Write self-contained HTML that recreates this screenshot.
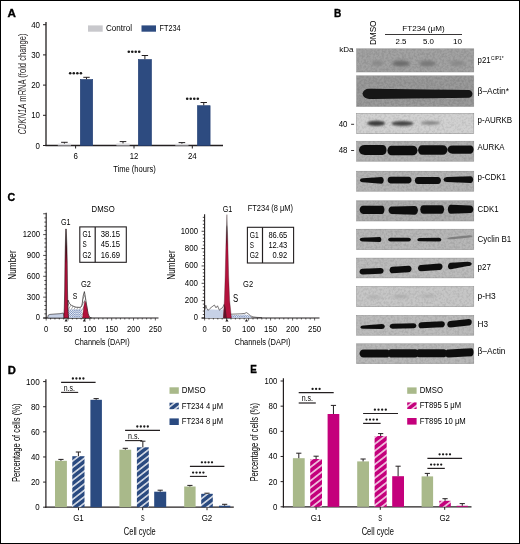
<!DOCTYPE html>
<html><head><meta charset="utf-8"><title>Figure</title>
<style>
html,body{margin:0;padding:0;background:#fff;}
svg{will-change:transform;}
body{width:520px;height:544px;overflow:hidden;}
svg{display:block;font-family:"Liberation Sans", sans-serif;}
</style></head>
<body>
<svg width="520" height="544" viewBox="0 0 520 544">
<rect x="0" y="0" width="520" height="544" fill="#fff"/>
<text x="7.40" y="16.80" font-size="11.6" textLength="8.40" lengthAdjust="spacingAndGlyphs" font-weight="bold" fill="#000" stroke="#000" stroke-width="0.35">A</text>
<line x1="46.00" y1="22.00" x2="46.00" y2="146.10" stroke="#231f20" stroke-width="1.3"/>
<line x1="45.40" y1="145.50" x2="223.00" y2="145.50" stroke="#231f20" stroke-width="1.3"/>
<line x1="43.00" y1="145.50" x2="46.00" y2="145.50" stroke="#231f20" stroke-width="1"/>
<text x="40.00" y="148.50" font-size="8.8" text-anchor="end" textLength="4.40" lengthAdjust="spacingAndGlyphs">0</text>
<line x1="43.00" y1="115.30" x2="46.00" y2="115.30" stroke="#231f20" stroke-width="1"/>
<text x="40.00" y="118.30" font-size="8.8" text-anchor="end" textLength="8.80" lengthAdjust="spacingAndGlyphs">10</text>
<line x1="43.00" y1="85.10" x2="46.00" y2="85.10" stroke="#231f20" stroke-width="1"/>
<text x="40.00" y="88.10" font-size="8.8" text-anchor="end" textLength="8.80" lengthAdjust="spacingAndGlyphs">20</text>
<line x1="43.00" y1="54.90" x2="46.00" y2="54.90" stroke="#231f20" stroke-width="1"/>
<text x="40.00" y="57.90" font-size="8.8" text-anchor="end" textLength="8.80" lengthAdjust="spacingAndGlyphs">30</text>
<line x1="43.00" y1="24.70" x2="46.00" y2="24.70" stroke="#231f20" stroke-width="1"/>
<text x="40.00" y="27.70" font-size="8.8" text-anchor="end" textLength="8.80" lengthAdjust="spacingAndGlyphs">40</text>
<line x1="75.60" y1="145.50" x2="75.60" y2="148.50" stroke="#231f20" stroke-width="1"/>
<text x="75.60" y="159.20" font-size="8.3" text-anchor="middle" textLength="4.40" lengthAdjust="spacingAndGlyphs">6</text>
<line x1="134.00" y1="145.50" x2="134.00" y2="148.50" stroke="#231f20" stroke-width="1"/>
<text x="134.00" y="159.20" font-size="8.3" text-anchor="middle" textLength="8.60" lengthAdjust="spacingAndGlyphs">12</text>
<line x1="192.30" y1="145.50" x2="192.30" y2="148.50" stroke="#231f20" stroke-width="1"/>
<text x="192.30" y="159.20" font-size="8.3" text-anchor="middle" textLength="8.80" lengthAdjust="spacingAndGlyphs">24</text>
<text x="134.50" y="172.40" font-size="9.4" text-anchor="middle" textLength="42.70" lengthAdjust="spacingAndGlyphs">Time (hours)</text>
<g transform="translate(26.0,84) rotate(-90)">
<text x="0" y="0" font-size="10.4" text-anchor="middle" textLength="101" lengthAdjust="spacingAndGlyphs" fill="#231f20"><tspan font-style="italic">CDKN1A</tspan> mRNA (fold change)</text>
</g>
<rect x="57.80" y="143.60" width="13.20" height="1.90" fill="#dcdce0"/>
<line x1="64.40" y1="142.30" x2="64.40" y2="143.60" stroke="#231f20" stroke-width="1"/>
<line x1="61.10" y1="142.30" x2="67.70" y2="142.30" stroke="#231f20" stroke-width="1"/>
<rect x="116.40" y="143.40" width="13.20" height="2.10" fill="#dcdce0"/>
<line x1="123.00" y1="141.60" x2="123.00" y2="143.40" stroke="#231f20" stroke-width="1"/>
<line x1="119.70" y1="141.60" x2="126.30" y2="141.60" stroke="#231f20" stroke-width="1"/>
<rect x="175.30" y="143.70" width="13.20" height="1.80" fill="#dcdce0"/>
<line x1="181.90" y1="142.60" x2="181.90" y2="143.70" stroke="#231f20" stroke-width="1"/>
<line x1="178.60" y1="142.60" x2="185.20" y2="142.60" stroke="#231f20" stroke-width="1"/>
<rect x="80.30" y="79.50" width="12.40" height="66.00" fill="#2d4b80" stroke="#223f74" stroke-width="0.6"/>
<line x1="86.50" y1="77.30" x2="86.50" y2="79.20" stroke="#231f20" stroke-width="1"/>
<line x1="83.30" y1="77.30" x2="89.70" y2="77.30" stroke="#231f20" stroke-width="1"/>
<rect x="138.30" y="59.50" width="13.20" height="86.00" fill="#2d4b80" stroke="#223f74" stroke-width="0.6"/>
<line x1="144.90" y1="55.50" x2="144.90" y2="59.20" stroke="#231f20" stroke-width="1"/>
<line x1="141.70" y1="55.50" x2="148.10" y2="55.50" stroke="#231f20" stroke-width="1"/>
<rect x="197.40" y="105.70" width="12.70" height="39.80" fill="#2d4b80" stroke="#223f74" stroke-width="0.6"/>
<line x1="203.75" y1="102.50" x2="203.75" y2="105.40" stroke="#231f20" stroke-width="1"/>
<line x1="200.55" y1="102.50" x2="206.95" y2="102.50" stroke="#231f20" stroke-width="1"/>
<circle cx="70.20" cy="73.20" r="1.3" fill="#1a1a1a"/>
<circle cx="73.77" cy="73.20" r="1.3" fill="#1a1a1a"/>
<circle cx="77.33" cy="73.20" r="1.3" fill="#1a1a1a"/>
<circle cx="80.90" cy="73.20" r="1.3" fill="#1a1a1a"/>
<circle cx="128.80" cy="51.70" r="1.3" fill="#1a1a1a"/>
<circle cx="132.27" cy="51.70" r="1.3" fill="#1a1a1a"/>
<circle cx="135.73" cy="51.70" r="1.3" fill="#1a1a1a"/>
<circle cx="139.20" cy="51.70" r="1.3" fill="#1a1a1a"/>
<circle cx="187.20" cy="98.70" r="1.3" fill="#1a1a1a"/>
<circle cx="190.73" cy="98.70" r="1.3" fill="#1a1a1a"/>
<circle cx="194.27" cy="98.70" r="1.3" fill="#1a1a1a"/>
<circle cx="197.80" cy="98.70" r="1.3" fill="#1a1a1a"/>
<rect x="88.00" y="25.40" width="14.70" height="6.30" fill="#c8c8cc"/>
<text x="106.00" y="31.20" font-size="8.3" textLength="26.00" lengthAdjust="spacingAndGlyphs">Control</text>
<rect x="141.50" y="25.40" width="14.50" height="6.30" fill="#2d4b80"/>
<text x="159.60" y="31.00" font-size="8.3" textLength="21.00" lengthAdjust="spacingAndGlyphs">FT234</text>
<text x="333.90" y="17.30" font-size="10.9" textLength="7.30" lengthAdjust="spacingAndGlyphs" font-weight="bold" fill="#000" stroke="#000" stroke-width="0.35">B</text>
<g transform="translate(375.7,32.8) rotate(-90)">
<text x="0.00" y="0.00" font-size="8.4" text-anchor="middle" textLength="24.60" lengthAdjust="spacingAndGlyphs">DMSO</text>
</g>
<text x="402.30" y="30.90" font-size="7.8" textLength="42.30" lengthAdjust="spacingAndGlyphs">FT234 (μM)</text>
<line x1="385.00" y1="34.50" x2="462.00" y2="34.50" stroke="#231f20" stroke-width="0.9"/>
<text x="395.50" y="43.50" font-size="7.8" textLength="11.00" lengthAdjust="spacingAndGlyphs">2.5</text>
<text x="423.00" y="43.50" font-size="7.8" textLength="11.00" lengthAdjust="spacingAndGlyphs">5.0</text>
<text x="453.00" y="43.50" font-size="7.8" textLength="9.00" lengthAdjust="spacingAndGlyphs">10</text>
<text x="339.20" y="51.50" font-size="7.8" textLength="14.30" lengthAdjust="spacingAndGlyphs">kDa</text>
<defs><filter id="bl1" x="-20%" y="-50%" width="140%" height="200%"><feGaussianBlur stdDeviation="0.9"/></filter><filter id="bl2" x="-20%" y="-80%" width="140%" height="260%"><feGaussianBlur stdDeviation="1.6"/></filter><filter id="bl3" x="-20%" y="-80%" width="140%" height="260%"><feGaussianBlur stdDeviation="2.4"/></filter></defs>
<rect x="356.60" y="48.80" width="117.20" height="23.20" fill="#9e9e9e" stroke="#8a8a8a" stroke-width="0.5"/>
<rect x="356.60" y="75.80" width="117.20" height="30.70" fill="#959595" stroke="#8a8a8a" stroke-width="0.5"/>
<rect x="356.60" y="113.40" width="117.20" height="20.30" fill="#cfcfcf" stroke="#8a8a8a" stroke-width="0.5"/>
<rect x="356.60" y="141.20" width="117.20" height="20.00" fill="#adadad" stroke="#8a8a8a" stroke-width="0.5"/>
<rect x="356.60" y="171.20" width="117.20" height="20.00" fill="#b0b0b0" stroke="#8a8a8a" stroke-width="0.5"/>
<rect x="356.60" y="200.80" width="117.20" height="20.20" fill="#a9a9a9" stroke="#8a8a8a" stroke-width="0.5"/>
<rect x="356.60" y="229.20" width="117.20" height="20.50" fill="#b4b4b4" stroke="#8a8a8a" stroke-width="0.5"/>
<rect x="356.60" y="258.10" width="117.20" height="19.80" fill="#b8b8b8" stroke="#8a8a8a" stroke-width="0.5"/>
<rect x="356.60" y="286.50" width="117.20" height="20.20" fill="#c4c4c4" stroke="#8a8a8a" stroke-width="0.5"/>
<rect x="356.60" y="315.40" width="117.20" height="19.80" fill="#b8b8b8" stroke="#8a8a8a" stroke-width="0.5"/>
<rect x="356.60" y="343.80" width="117.20" height="19.80" fill="#b4b4b4" stroke="#8a8a8a" stroke-width="0.5"/>
<defs><filter id="nz" x="0" y="0" width="1" height="1" filterUnits="objectBoundingBox" color-interpolation-filters="sRGB"><feTurbulence type="fractalNoise" baseFrequency="0.45" numOctaves="2" seed="11" result="t"/><feColorMatrix in="t" type="matrix" values="0 0 0 0 0  0 0 0 0 0  0 0 0 0 0  0 0 0 -2.2 1.25" result="dk"/><feColorMatrix in="t" type="matrix" values="0 0 0 0 1  0 0 0 0 1  0 0 0 0 1  0 0 0 2.2 -1.0" result="lt"/><feMerge result="m"><feMergeNode in="dk"/><feMergeNode in="lt"/></feMerge><feComposite in="m" in2="SourceGraphic" operator="in"/></filter></defs>
<rect x="356.60" y="48.80" width="117.20" height="23.20" fill="#000" filter="url(#nz)" opacity="0.09"/>
<rect x="356.60" y="75.80" width="117.20" height="30.70" fill="#000" filter="url(#nz)" opacity="0.09"/>
<rect x="356.60" y="113.40" width="117.20" height="20.30" fill="#000" filter="url(#nz)" opacity="0.09"/>
<rect x="356.60" y="141.20" width="117.20" height="20.00" fill="#000" filter="url(#nz)" opacity="0.09"/>
<rect x="356.60" y="171.20" width="117.20" height="20.00" fill="#000" filter="url(#nz)" opacity="0.09"/>
<rect x="356.60" y="200.80" width="117.20" height="20.20" fill="#000" filter="url(#nz)" opacity="0.09"/>
<rect x="356.60" y="229.20" width="117.20" height="20.50" fill="#000" filter="url(#nz)" opacity="0.09"/>
<rect x="356.60" y="258.10" width="117.20" height="19.80" fill="#000" filter="url(#nz)" opacity="0.09"/>
<rect x="356.60" y="286.50" width="117.20" height="20.20" fill="#000" filter="url(#nz)" opacity="0.09"/>
<rect x="356.60" y="315.40" width="117.20" height="19.80" fill="#000" filter="url(#nz)" opacity="0.09"/>
<rect x="356.60" y="343.80" width="117.20" height="19.80" fill="#000" filter="url(#nz)" opacity="0.09"/>
<defs><filter id="bl0" x="-10%" y="-60%" width="120%" height="220%"><feGaussianBlur stdDeviation="0.7"/></filter></defs>
<ellipse cx="377.50" cy="63.20" rx="6.00" ry="2.50" fill="#888" opacity="1" filter="url(#bl2)"/>
<ellipse cx="401.00" cy="63.50" rx="9.00" ry="3.00" fill="#6c6c6c" opacity="1" filter="url(#bl2)"/>
<ellipse cx="427.50" cy="63.50" rx="8.50" ry="3.00" fill="#787878" opacity="1" filter="url(#bl2)"/>
<ellipse cx="457.50" cy="63.20" rx="7.50" ry="2.50" fill="#888" opacity="1" filter="url(#bl2)"/>
<path d="M362.50,93.80 Q363.55,88.70 369.50,88.70 L468.50,89.90 Q471.90,89.90 472.50,93.80 Q471.90,97.70 468.50,97.70 L369.50,98.90 Q363.55,98.90 362.50,93.80 Z" fill="#121212" filter="url(#bl0)"/>
<ellipse cx="376.20" cy="123.30" rx="9.00" ry="2.60" fill="#3c3c3c" opacity="1" filter="url(#bl1)"/>
<ellipse cx="402.50" cy="123.50" rx="11.00" ry="2.40" fill="#464646" opacity="1" filter="url(#bl1)"/>
<ellipse cx="430.50" cy="123.00" rx="10.00" ry="1.90" fill="#8a8a8a" opacity="1" filter="url(#bl1)"/>
<path d="M358.80,150.00 Q359.70,145.10 364.80,145.10 L382.60,145.10 Q386.00,145.10 386.60,150.00 Q386.00,154.90 382.60,154.90 L364.80,154.90 Q359.70,154.90 358.80,150.00 Z" fill="#0f0f0f" filter="url(#bl0)"/>
<path d="M387.40,150.50 Q388.00,145.70 391.40,145.70 L412.60,145.70 Q416.85,145.70 417.60,150.50 Q416.85,155.30 412.60,155.30 L391.40,155.30 Q388.00,155.30 387.40,150.50 Z" fill="#0f0f0f" filter="url(#bl0)"/>
<path d="M418.00,150.00 Q418.60,145.30 422.00,145.30 L442.60,145.30 Q446.85,145.30 447.60,150.00 Q446.85,154.70 442.60,154.70 L422.00,154.70 Q418.60,154.70 418.00,150.00 Z" fill="#0f0f0f" filter="url(#bl0)"/>
<path d="M447.40,149.60 Q448.15,145.50 452.40,145.50 L470.60,145.50 Q473.15,145.50 473.60,149.60 Q473.15,153.70 470.60,153.70 L452.40,153.70 Q448.15,153.70 447.40,149.60 Z" fill="#0f0f0f" filter="url(#bl0)"/>
<path d="M359.80,180.30 Q360.25,178.30 362.80,178.30 L381.30,176.90 Q383.43,176.90 383.80,180.30 Q383.43,183.70 381.30,183.70 L362.80,182.30 Q360.25,182.30 359.80,180.30 Z" fill="#0f0f0f" filter="url(#bl0)"/>
<path d="M387.60,180.10 Q388.05,176.80 390.60,176.80 L408.60,176.80 Q411.15,176.80 411.60,180.10 Q411.15,183.40 408.60,183.40 L390.60,183.40 Q388.05,183.40 387.60,180.10 Z" fill="#0f0f0f" filter="url(#bl0)"/>
<path d="M414.80,180.40 Q415.25,176.90 417.80,176.90 L438.00,176.90 Q440.55,176.90 441.00,180.40 Q440.55,183.90 438.00,183.90 L417.80,183.90 Q415.25,183.90 414.80,180.40 Z" fill="#0f0f0f" filter="url(#bl0)"/>
<path d="M443.40,179.60 Q443.92,177.10 446.90,177.10 L470.70,176.20 Q472.82,176.20 473.20,179.60 Q472.82,183.00 470.70,183.00 L446.90,182.10 Q443.92,182.10 443.40,179.60 Z" fill="#0f0f0f" filter="url(#bl0)"/>
<path d="M359.60,209.80 Q360.12,205.70 363.10,205.70 L382.40,205.70 Q384.10,205.70 384.40,209.80 Q384.10,213.90 382.40,213.90 L363.10,213.90 Q360.12,213.90 359.60,209.80 Z" fill="#0f0f0f" filter="url(#bl0)"/>
<path d="M388.50,210.30 Q389.02,206.60 392.00,206.60 L414.50,205.90 Q417.48,205.90 418.00,210.30 Q417.48,214.70 414.50,214.70 L392.00,214.00 Q389.02,214.00 388.50,210.30 Z" fill="#0f0f0f" filter="url(#bl0)"/>
<path d="M420.20,209.50 Q420.65,205.30 423.20,205.30 L441.20,205.30 Q443.75,205.30 444.20,209.50 Q443.75,213.70 441.20,213.70 L423.20,213.70 Q420.65,213.70 420.20,209.50 Z" fill="#0f0f0f" filter="url(#bl0)"/>
<path d="M447.80,209.20 Q448.25,204.70 450.80,204.70 L470.40,205.40 Q472.95,205.40 473.40,209.20 Q472.95,213.00 470.40,213.00 L450.80,213.70 Q448.25,213.70 447.80,209.20 Z" fill="#0f0f0f" filter="url(#bl0)"/>
<path d="M359.60,239.60 Q359.98,237.80 362.10,237.80 L379.90,237.10 Q381.17,237.10 381.40,239.60 Q381.17,242.10 379.90,242.10 L362.10,241.40 Q359.98,241.40 359.60,239.60 Z" fill="#0f0f0f" filter="url(#bl0)"/>
<path d="M388.00,239.60 Q388.38,237.70 390.50,237.70 L408.50,237.70 Q410.62,237.70 411.00,239.60 Q410.62,241.50 408.50,241.50 L390.50,241.50 Q388.38,241.50 388.00,239.60 Z" fill="#0f0f0f" filter="url(#bl0)"/>
<path d="M417.20,239.70 Q417.57,238.10 419.70,238.10 L438.90,237.80 Q441.02,237.80 441.40,239.70 Q441.02,241.60 438.90,241.60 L419.70,241.30 Q417.57,241.30 417.20,239.70 Z" fill="#0f0f0f" filter="url(#bl0)"/>
<path d="M447.20,238.70 Q447.95,237.09 452.20,237.09 L469.60,235.31 Q472.15,235.31 472.60,236.10 Q472.15,237.51 469.60,237.51 L452.20,239.29 Q447.95,239.29 447.20,238.70 Z" fill="#7e7e7e" filter="url(#bl0)"/>
<path d="M359.50,271.80 Q359.95,268.78 362.50,268.78 L380.70,268.02 Q383.25,268.02 383.70,270.80 Q383.25,273.82 380.70,273.82 L362.50,274.58 Q359.95,274.58 359.50,271.80 Z" fill="#0f0f0f" filter="url(#bl0)"/>
<path d="M389.50,270.20 Q389.95,266.71 392.50,266.71 L408.60,265.69 Q411.15,265.69 411.60,268.80 Q411.15,272.29 408.60,272.29 L392.50,273.31 Q389.95,273.31 389.50,270.20 Z" fill="#0f0f0f" filter="url(#bl0)"/>
<path d="M417.90,268.30 Q418.35,264.88 420.90,264.88 L439.60,263.52 Q442.15,263.52 442.60,266.50 Q442.15,269.92 439.60,269.92 L420.90,271.28 Q418.35,271.28 417.90,268.30 Z" fill="#0f0f0f" filter="url(#bl0)"/>
<path d="M447.90,266.40 Q448.35,262.72 450.90,262.72 L467.80,261.70 Q471.20,261.70 471.80,263.40 Q471.20,266.10 467.80,266.10 L450.90,269.32 Q448.35,269.32 447.90,266.40 Z" fill="#0f0f0f" filter="url(#bl0)"/>
<ellipse cx="374.00" cy="297.00" rx="7.00" ry="1.50" fill="#acacac" opacity="1" filter="url(#bl2)"/>
<ellipse cx="401.00" cy="296.50" rx="9.00" ry="1.50" fill="#a8a8a8" opacity="1" filter="url(#bl2)"/>
<ellipse cx="428.00" cy="296.00" rx="8.00" ry="1.50" fill="#acacac" opacity="1" filter="url(#bl2)"/>
<path d="M360.20,327.20 Q360.65,325.40 363.20,325.40 L381.90,324.00 Q384.45,324.00 384.90,326.40 Q384.45,329.00 381.90,329.00 L363.20,328.80 Q360.65,328.80 360.20,327.20 Z" fill="#0f0f0f" filter="url(#bl0)"/>
<path d="M389.50,326.30 Q389.95,323.73 392.50,323.73 L413.50,323.27 Q416.05,323.27 416.50,325.70 Q416.05,328.27 413.50,328.27 L392.50,328.73 Q389.95,328.73 389.50,326.30 Z" fill="#0f0f0f" filter="url(#bl0)"/>
<path d="M418.40,325.40 Q418.85,322.26 421.40,322.26 L441.90,321.34 Q444.45,321.34 444.90,324.20 Q444.45,327.34 441.90,327.34 L421.40,328.26 Q418.85,328.26 418.40,325.40 Z" fill="#0f0f0f" filter="url(#bl0)"/>
<path d="M447.20,324.50 Q447.65,320.98 450.20,320.98 L468.80,319.02 Q471.35,319.02 471.80,321.90 Q471.35,325.42 468.80,325.42 L450.20,327.38 Q447.65,327.38 447.20,324.50 Z" fill="#0f0f0f" filter="url(#bl0)"/>
<path d="M359.50,353.60 Q360.10,349.60 363.50,349.60 L387.00,349.60 Q389.55,349.60 390.00,353.60 Q389.55,357.60 387.00,357.60 L363.50,357.60 Q360.10,357.60 359.50,353.60 Z" fill="#0f0f0f" filter="url(#bl0)"/>
<path d="M388.00,353.40 Q388.45,349.30 391.00,349.30 L415.50,349.30 Q418.05,349.30 418.50,353.40 Q418.05,357.50 415.50,357.50 L391.00,357.50 Q388.45,357.50 388.00,353.40 Z" fill="#0f0f0f" filter="url(#bl0)"/>
<path d="M416.00,353.20 Q416.45,349.20 419.00,349.20 L444.00,349.20 Q446.55,349.20 447.00,353.20 Q446.55,357.20 444.00,357.20 L419.00,357.20 Q416.45,357.20 416.00,353.20 Z" fill="#0f0f0f" filter="url(#bl0)"/>
<path d="M445.00,353.55 Q445.45,349.39 448.00,349.39 L471.60,348.15 Q473.30,348.15 473.60,352.05 Q473.30,356.15 471.60,356.15 L448.00,357.39 Q445.45,357.39 445.00,353.55 Z" fill="#0f0f0f" filter="url(#bl0)"/>
<text x="477.60" y="62.80" font-size="8.4" textLength="13.00" lengthAdjust="spacingAndGlyphs">p21</text>
<text x="491.00" y="59.80" font-size="4.8" textLength="12.60" lengthAdjust="spacingAndGlyphs">CIP1*</text>
<text x="477.60" y="93.80" font-size="8.4" textLength="31.40" lengthAdjust="spacingAndGlyphs">β–Actin*</text>
<text x="477.60" y="122.90" font-size="8.4" textLength="34.60" lengthAdjust="spacingAndGlyphs">p-AURKB</text>
<text x="477.60" y="150.10" font-size="8.4" textLength="27.00" lengthAdjust="spacingAndGlyphs">AURKA</text>
<text x="477.60" y="179.90" font-size="8.4" textLength="28.30" lengthAdjust="spacingAndGlyphs">p-CDK1</text>
<text x="477.60" y="211.90" font-size="8.4" textLength="20.90" lengthAdjust="spacingAndGlyphs">CDK1</text>
<text x="477.60" y="242.00" font-size="8.4" textLength="33.70" lengthAdjust="spacingAndGlyphs">Cyclin B1</text>
<text x="477.60" y="270.00" font-size="8.4" textLength="13.20" lengthAdjust="spacingAndGlyphs">p27</text>
<text x="477.60" y="298.60" font-size="8.4" textLength="18.20" lengthAdjust="spacingAndGlyphs">p-H3</text>
<text x="477.60" y="327.00" font-size="8.4" textLength="10.50" lengthAdjust="spacingAndGlyphs">H3</text>
<text x="477.60" y="354.00" font-size="8.4" textLength="27.80" lengthAdjust="spacingAndGlyphs">β–Actin</text>
<text x="338.70" y="126.80" font-size="8.2" textLength="8.80" lengthAdjust="spacingAndGlyphs">40</text>
<line x1="351.10" y1="124.30" x2="354.10" y2="124.30" stroke="#231f20" stroke-width="0.9"/>
<text x="338.70" y="152.90" font-size="8.2" textLength="8.80" lengthAdjust="spacingAndGlyphs">48</text>
<line x1="351.10" y1="150.50" x2="354.10" y2="150.50" stroke="#231f20" stroke-width="0.9"/>
<text x="7.60" y="201.00" font-size="11.4" textLength="7.70" lengthAdjust="spacingAndGlyphs" font-weight="bold" fill="#000" stroke="#000" stroke-width="0.35">C</text>
<defs><pattern id="xh" patternUnits="userSpaceOnUse" width="2.2" height="2.2"><rect width="2.2" height="2.2" fill="#e8edf6"/><path d="M0,0 L2.2,2.2 M2.2,0 L0,2.2" stroke="#647cb0" stroke-width="0.5"/></pattern></defs>
<line x1="46.20" y1="212.80" x2="46.20" y2="318.50" stroke="#231f20" stroke-width="1.1"/>
<line x1="43.20" y1="318.00" x2="158.50" y2="318.00" stroke="#231f20" stroke-width="1.1"/>
<line x1="43.20" y1="318.00" x2="46.20" y2="318.00" stroke="#231f20" stroke-width="0.8"/>
<line x1="44.40" y1="313.83" x2="46.20" y2="313.83" stroke="#231f20" stroke-width="0.8"/>
<line x1="44.40" y1="309.66" x2="46.20" y2="309.66" stroke="#231f20" stroke-width="0.8"/>
<line x1="44.40" y1="305.49" x2="46.20" y2="305.49" stroke="#231f20" stroke-width="0.8"/>
<line x1="44.40" y1="301.32" x2="46.20" y2="301.32" stroke="#231f20" stroke-width="0.8"/>
<line x1="43.20" y1="297.15" x2="46.20" y2="297.15" stroke="#231f20" stroke-width="0.8"/>
<line x1="44.40" y1="292.98" x2="46.20" y2="292.98" stroke="#231f20" stroke-width="0.8"/>
<line x1="44.40" y1="288.81" x2="46.20" y2="288.81" stroke="#231f20" stroke-width="0.8"/>
<line x1="44.40" y1="284.64" x2="46.20" y2="284.64" stroke="#231f20" stroke-width="0.8"/>
<line x1="44.40" y1="280.47" x2="46.20" y2="280.47" stroke="#231f20" stroke-width="0.8"/>
<line x1="43.20" y1="276.30" x2="46.20" y2="276.30" stroke="#231f20" stroke-width="0.8"/>
<line x1="44.40" y1="272.13" x2="46.20" y2="272.13" stroke="#231f20" stroke-width="0.8"/>
<line x1="44.40" y1="267.96" x2="46.20" y2="267.96" stroke="#231f20" stroke-width="0.8"/>
<line x1="44.40" y1="263.79" x2="46.20" y2="263.79" stroke="#231f20" stroke-width="0.8"/>
<line x1="44.40" y1="259.62" x2="46.20" y2="259.62" stroke="#231f20" stroke-width="0.8"/>
<line x1="43.20" y1="255.45" x2="46.20" y2="255.45" stroke="#231f20" stroke-width="0.8"/>
<line x1="44.40" y1="251.28" x2="46.20" y2="251.28" stroke="#231f20" stroke-width="0.8"/>
<line x1="44.40" y1="247.11" x2="46.20" y2="247.11" stroke="#231f20" stroke-width="0.8"/>
<line x1="44.40" y1="242.94" x2="46.20" y2="242.94" stroke="#231f20" stroke-width="0.8"/>
<line x1="44.40" y1="238.77" x2="46.20" y2="238.77" stroke="#231f20" stroke-width="0.8"/>
<line x1="43.20" y1="234.60" x2="46.20" y2="234.60" stroke="#231f20" stroke-width="0.8"/>
<line x1="44.40" y1="230.43" x2="46.20" y2="230.43" stroke="#231f20" stroke-width="0.8"/>
<line x1="44.40" y1="226.26" x2="46.20" y2="226.26" stroke="#231f20" stroke-width="0.8"/>
<line x1="44.40" y1="222.09" x2="46.20" y2="222.09" stroke="#231f20" stroke-width="0.8"/>
<line x1="44.40" y1="217.92" x2="46.20" y2="217.92" stroke="#231f20" stroke-width="0.8"/>
<line x1="43.20" y1="213.75" x2="46.20" y2="213.75" stroke="#231f20" stroke-width="0.8"/>
<text x="40.00" y="320.40" font-size="8.6" text-anchor="end" textLength="4.20" lengthAdjust="spacingAndGlyphs">0</text>
<text x="40.00" y="299.55" font-size="8.6" text-anchor="end" textLength="13.20" lengthAdjust="spacingAndGlyphs">300</text>
<text x="40.00" y="278.70" font-size="8.6" text-anchor="end" textLength="13.20" lengthAdjust="spacingAndGlyphs">600</text>
<text x="40.00" y="257.85" font-size="8.6" text-anchor="end" textLength="13.20" lengthAdjust="spacingAndGlyphs">900</text>
<text x="40.00" y="237.00" font-size="8.6" text-anchor="end" textLength="17.20" lengthAdjust="spacingAndGlyphs">1200</text>
<line x1="46.20" y1="318.00" x2="46.20" y2="320.50" stroke="#231f20" stroke-width="0.7"/>
<line x1="50.57" y1="318.00" x2="50.57" y2="319.50" stroke="#231f20" stroke-width="0.7"/>
<line x1="54.93" y1="318.00" x2="54.93" y2="319.50" stroke="#231f20" stroke-width="0.7"/>
<line x1="59.30" y1="318.00" x2="59.30" y2="319.50" stroke="#231f20" stroke-width="0.7"/>
<line x1="63.66" y1="318.00" x2="63.66" y2="319.50" stroke="#231f20" stroke-width="0.7"/>
<line x1="68.03" y1="318.00" x2="68.03" y2="320.50" stroke="#231f20" stroke-width="0.7"/>
<line x1="72.40" y1="318.00" x2="72.40" y2="319.50" stroke="#231f20" stroke-width="0.7"/>
<line x1="76.76" y1="318.00" x2="76.76" y2="319.50" stroke="#231f20" stroke-width="0.7"/>
<line x1="81.13" y1="318.00" x2="81.13" y2="319.50" stroke="#231f20" stroke-width="0.7"/>
<line x1="85.49" y1="318.00" x2="85.49" y2="319.50" stroke="#231f20" stroke-width="0.7"/>
<line x1="89.86" y1="318.00" x2="89.86" y2="320.50" stroke="#231f20" stroke-width="0.7"/>
<line x1="94.23" y1="318.00" x2="94.23" y2="319.50" stroke="#231f20" stroke-width="0.7"/>
<line x1="98.59" y1="318.00" x2="98.59" y2="319.50" stroke="#231f20" stroke-width="0.7"/>
<line x1="102.96" y1="318.00" x2="102.96" y2="319.50" stroke="#231f20" stroke-width="0.7"/>
<line x1="107.32" y1="318.00" x2="107.32" y2="319.50" stroke="#231f20" stroke-width="0.7"/>
<line x1="111.69" y1="318.00" x2="111.69" y2="320.50" stroke="#231f20" stroke-width="0.7"/>
<line x1="116.06" y1="318.00" x2="116.06" y2="319.50" stroke="#231f20" stroke-width="0.7"/>
<line x1="120.42" y1="318.00" x2="120.42" y2="319.50" stroke="#231f20" stroke-width="0.7"/>
<line x1="124.79" y1="318.00" x2="124.79" y2="319.50" stroke="#231f20" stroke-width="0.7"/>
<line x1="129.15" y1="318.00" x2="129.15" y2="319.50" stroke="#231f20" stroke-width="0.7"/>
<line x1="133.52" y1="318.00" x2="133.52" y2="320.50" stroke="#231f20" stroke-width="0.7"/>
<line x1="137.89" y1="318.00" x2="137.89" y2="319.50" stroke="#231f20" stroke-width="0.7"/>
<line x1="142.25" y1="318.00" x2="142.25" y2="319.50" stroke="#231f20" stroke-width="0.7"/>
<line x1="146.62" y1="318.00" x2="146.62" y2="319.50" stroke="#231f20" stroke-width="0.7"/>
<line x1="150.98" y1="318.00" x2="150.98" y2="319.50" stroke="#231f20" stroke-width="0.7"/>
<line x1="155.35" y1="318.00" x2="155.35" y2="320.50" stroke="#231f20" stroke-width="0.7"/>
<text x="46.20" y="331.50" font-size="8.6" text-anchor="middle" textLength="4.20" lengthAdjust="spacingAndGlyphs">0</text>
<text x="68.03" y="331.50" font-size="8.6" text-anchor="middle" textLength="8.60" lengthAdjust="spacingAndGlyphs">50</text>
<text x="89.86" y="331.50" font-size="8.6" text-anchor="middle" textLength="13.00" lengthAdjust="spacingAndGlyphs">100</text>
<text x="111.69" y="331.50" font-size="8.6" text-anchor="middle" textLength="13.00" lengthAdjust="spacingAndGlyphs">150</text>
<text x="133.52" y="331.50" font-size="8.6" text-anchor="middle" textLength="13.00" lengthAdjust="spacingAndGlyphs">200</text>
<text x="155.35" y="331.50" font-size="8.6" text-anchor="middle" textLength="13.00" lengthAdjust="spacingAndGlyphs">250</text>
<text x="102.00" y="344.60" font-size="9.7" text-anchor="middle" textLength="55.20" lengthAdjust="spacingAndGlyphs">Channels (DAPI)</text>
<g transform="translate(16.0,265) rotate(-90)">
<text x="0.00" y="0.00" font-size="10.0" text-anchor="middle" textLength="29.40" lengthAdjust="spacingAndGlyphs">Number</text>
</g>
<text x="103.20" y="211.80" font-size="8.4" text-anchor="middle" textLength="23.20" lengthAdjust="spacingAndGlyphs">DMSO</text>
<text x="65.80" y="225.40" font-size="8.2" text-anchor="middle" textLength="9.60" lengthAdjust="spacingAndGlyphs">G1</text>
<text x="75.00" y="299.20" font-size="8.3" text-anchor="middle" textLength="4.60" lengthAdjust="spacingAndGlyphs">S</text>
<text x="86.00" y="286.60" font-size="8.4" text-anchor="middle" textLength="10.00" lengthAdjust="spacingAndGlyphs">G2</text>
<rect x="79.8" y="226.9" width="46.5" height="35.4" fill="#fff" stroke="#231f20" stroke-width="1.1"/>
<line x1="95.20" y1="226.90" x2="95.20" y2="262.30" stroke="#231f20" stroke-width="1.2"/>
<text x="82.50" y="236.90" font-size="8.8" textLength="8.80" lengthAdjust="spacingAndGlyphs">G1</text>
<text x="100.80" y="236.90" font-size="8.8" textLength="19.30" lengthAdjust="spacingAndGlyphs">38.15</text>
<text x="82.50" y="247.20" font-size="8.8" textLength="4.20" lengthAdjust="spacingAndGlyphs">S</text>
<text x="100.80" y="247.20" font-size="8.8" textLength="19.30" lengthAdjust="spacingAndGlyphs">45.15</text>
<text x="82.50" y="257.50" font-size="8.8" textLength="8.80" lengthAdjust="spacingAndGlyphs">G2</text>
<text x="100.80" y="257.50" font-size="8.8" textLength="19.30" lengthAdjust="spacingAndGlyphs">16.69</text>
<defs><linearGradient id="g1a" x1="0" y1="229" x2="0" y2="264" gradientUnits="userSpaceOnUse"><stop offset="0" stop-color="#777"/><stop offset="0.3" stop-color="#333"/><stop offset="0.5" stop-color="#3a0612"/><stop offset="1" stop-color="#b3123c"/></linearGradient><linearGradient id="g1b" x1="0" y1="215" x2="0" y2="248" gradientUnits="userSpaceOnUse"><stop offset="0" stop-color="#a0a0a0"/><stop offset="0.3" stop-color="#707070"/><stop offset="0.36" stop-color="#111"/><stop offset="0.5" stop-color="#2a0610"/><stop offset="1" stop-color="#b3123c"/></linearGradient><pattern id="gh" patternUnits="userSpaceOnUse" width="2.4" height="2.4" patternTransform="rotate(30)"><rect width="2.4" height="2.4" fill="#fff"/><rect width="0.7" height="2.4" fill="#9a9a9a"/></pattern></defs>
<path d="M47.6,318.0 L48.2,315.2 L50,314.4 L55,314.0 L60,313.7 L63.2,313.0 L64.6,318.0 Z" fill="#c7d1e6" stroke="#231f20" stroke-width="0.6"/>
<path d="M67.6,318.0 L67.9,300 L69.5,303.4 L71.5,305.4 L74,306.5 L76,307.2 L80,307.4 L81.6,306.4 L82.3,303 L83.2,296 L84.4,291.6 L85.2,296 L85.8,300 L86.8,306 L88.0,313.5 L89.4,317 L91.5,318.0 Z" fill="url(#gh)" stroke="#231f20" stroke-width="0.7"/>
<path d="M67.8,318.0 L67.8,309.4 L81.8,309.4 L81.8,318.0 Z" fill="url(#xh)" stroke="none" stroke-width="1"/>
<path d="M63.8,318.0 L64.3,308 L64.7,290 L65.0,262 L65.3,248 L65.7,229.0 L66.3,229.0 L66.9,248 L67.2,262 L67.5,290 L67.9,308 L68.6,318.0 Z" fill="url(#g1a)" stroke="#1a0608" stroke-width="0.55"/>
<path d="M82.5,318.0 L83.6,308 L84.8,301 L85.6,302 L86.8,307 L88.0,313.5 L89.4,318.0 Z" fill="#b3123c" stroke="#3a0a14" stroke-width="0.35"/>
<path d="M64.6,321.5 L66.1,318.6 L67.6,321.5 Z" fill="#231f20" stroke="none" stroke-width="1"/>
<path d="M82.9,321.5 L84.4,318.6 L85.9,321.5 Z" fill="#231f20" stroke="none" stroke-width="1"/>
<line x1="204.60" y1="214.20" x2="204.60" y2="318.50" stroke="#231f20" stroke-width="1.1"/>
<line x1="201.60" y1="318.00" x2="319.50" y2="318.00" stroke="#231f20" stroke-width="1.1"/>
<line x1="201.60" y1="318.00" x2="204.60" y2="318.00" stroke="#231f20" stroke-width="0.8"/>
<line x1="202.80" y1="314.53" x2="204.60" y2="314.53" stroke="#231f20" stroke-width="0.8"/>
<line x1="202.80" y1="311.06" x2="204.60" y2="311.06" stroke="#231f20" stroke-width="0.8"/>
<line x1="202.80" y1="307.59" x2="204.60" y2="307.59" stroke="#231f20" stroke-width="0.8"/>
<line x1="202.80" y1="304.12" x2="204.60" y2="304.12" stroke="#231f20" stroke-width="0.8"/>
<line x1="201.60" y1="300.65" x2="204.60" y2="300.65" stroke="#231f20" stroke-width="0.8"/>
<line x1="202.80" y1="297.18" x2="204.60" y2="297.18" stroke="#231f20" stroke-width="0.8"/>
<line x1="202.80" y1="293.71" x2="204.60" y2="293.71" stroke="#231f20" stroke-width="0.8"/>
<line x1="202.80" y1="290.24" x2="204.60" y2="290.24" stroke="#231f20" stroke-width="0.8"/>
<line x1="202.80" y1="286.77" x2="204.60" y2="286.77" stroke="#231f20" stroke-width="0.8"/>
<line x1="201.60" y1="283.30" x2="204.60" y2="283.30" stroke="#231f20" stroke-width="0.8"/>
<line x1="202.80" y1="279.83" x2="204.60" y2="279.83" stroke="#231f20" stroke-width="0.8"/>
<line x1="202.80" y1="276.36" x2="204.60" y2="276.36" stroke="#231f20" stroke-width="0.8"/>
<line x1="202.80" y1="272.89" x2="204.60" y2="272.89" stroke="#231f20" stroke-width="0.8"/>
<line x1="202.80" y1="269.42" x2="204.60" y2="269.42" stroke="#231f20" stroke-width="0.8"/>
<line x1="201.60" y1="265.95" x2="204.60" y2="265.95" stroke="#231f20" stroke-width="0.8"/>
<line x1="202.80" y1="262.48" x2="204.60" y2="262.48" stroke="#231f20" stroke-width="0.8"/>
<line x1="202.80" y1="259.01" x2="204.60" y2="259.01" stroke="#231f20" stroke-width="0.8"/>
<line x1="202.80" y1="255.54" x2="204.60" y2="255.54" stroke="#231f20" stroke-width="0.8"/>
<line x1="202.80" y1="252.07" x2="204.60" y2="252.07" stroke="#231f20" stroke-width="0.8"/>
<line x1="201.60" y1="248.60" x2="204.60" y2="248.60" stroke="#231f20" stroke-width="0.8"/>
<line x1="202.80" y1="245.13" x2="204.60" y2="245.13" stroke="#231f20" stroke-width="0.8"/>
<line x1="202.80" y1="241.66" x2="204.60" y2="241.66" stroke="#231f20" stroke-width="0.8"/>
<line x1="202.80" y1="238.19" x2="204.60" y2="238.19" stroke="#231f20" stroke-width="0.8"/>
<line x1="202.80" y1="234.72" x2="204.60" y2="234.72" stroke="#231f20" stroke-width="0.8"/>
<line x1="201.60" y1="231.25" x2="204.60" y2="231.25" stroke="#231f20" stroke-width="0.8"/>
<line x1="202.80" y1="227.78" x2="204.60" y2="227.78" stroke="#231f20" stroke-width="0.8"/>
<line x1="202.80" y1="224.31" x2="204.60" y2="224.31" stroke="#231f20" stroke-width="0.8"/>
<line x1="202.80" y1="220.84" x2="204.60" y2="220.84" stroke="#231f20" stroke-width="0.8"/>
<line x1="202.80" y1="217.37" x2="204.60" y2="217.37" stroke="#231f20" stroke-width="0.8"/>
<text x="198.00" y="320.40" font-size="8.6" text-anchor="end" textLength="4.20" lengthAdjust="spacingAndGlyphs">0</text>
<text x="198.00" y="303.05" font-size="8.6" text-anchor="end" textLength="13.20" lengthAdjust="spacingAndGlyphs">200</text>
<text x="198.00" y="285.70" font-size="8.6" text-anchor="end" textLength="13.20" lengthAdjust="spacingAndGlyphs">400</text>
<text x="198.00" y="268.35" font-size="8.6" text-anchor="end" textLength="13.20" lengthAdjust="spacingAndGlyphs">600</text>
<text x="198.00" y="251.00" font-size="8.6" text-anchor="end" textLength="13.20" lengthAdjust="spacingAndGlyphs">800</text>
<text x="198.00" y="233.65" font-size="8.6" text-anchor="end" textLength="17.20" lengthAdjust="spacingAndGlyphs">1000</text>
<line x1="204.60" y1="318.00" x2="204.60" y2="320.50" stroke="#231f20" stroke-width="0.7"/>
<line x1="209.00" y1="318.00" x2="209.00" y2="319.50" stroke="#231f20" stroke-width="0.7"/>
<line x1="213.40" y1="318.00" x2="213.40" y2="319.50" stroke="#231f20" stroke-width="0.7"/>
<line x1="217.80" y1="318.00" x2="217.80" y2="319.50" stroke="#231f20" stroke-width="0.7"/>
<line x1="222.20" y1="318.00" x2="222.20" y2="319.50" stroke="#231f20" stroke-width="0.7"/>
<line x1="226.60" y1="318.00" x2="226.60" y2="320.50" stroke="#231f20" stroke-width="0.7"/>
<line x1="231.00" y1="318.00" x2="231.00" y2="319.50" stroke="#231f20" stroke-width="0.7"/>
<line x1="235.40" y1="318.00" x2="235.40" y2="319.50" stroke="#231f20" stroke-width="0.7"/>
<line x1="239.80" y1="318.00" x2="239.80" y2="319.50" stroke="#231f20" stroke-width="0.7"/>
<line x1="244.20" y1="318.00" x2="244.20" y2="319.50" stroke="#231f20" stroke-width="0.7"/>
<line x1="248.60" y1="318.00" x2="248.60" y2="320.50" stroke="#231f20" stroke-width="0.7"/>
<line x1="253.00" y1="318.00" x2="253.00" y2="319.50" stroke="#231f20" stroke-width="0.7"/>
<line x1="257.40" y1="318.00" x2="257.40" y2="319.50" stroke="#231f20" stroke-width="0.7"/>
<line x1="261.80" y1="318.00" x2="261.80" y2="319.50" stroke="#231f20" stroke-width="0.7"/>
<line x1="266.20" y1="318.00" x2="266.20" y2="319.50" stroke="#231f20" stroke-width="0.7"/>
<line x1="270.60" y1="318.00" x2="270.60" y2="320.50" stroke="#231f20" stroke-width="0.7"/>
<line x1="275.00" y1="318.00" x2="275.00" y2="319.50" stroke="#231f20" stroke-width="0.7"/>
<line x1="279.40" y1="318.00" x2="279.40" y2="319.50" stroke="#231f20" stroke-width="0.7"/>
<line x1="283.80" y1="318.00" x2="283.80" y2="319.50" stroke="#231f20" stroke-width="0.7"/>
<line x1="288.20" y1="318.00" x2="288.20" y2="319.50" stroke="#231f20" stroke-width="0.7"/>
<line x1="292.60" y1="318.00" x2="292.60" y2="320.50" stroke="#231f20" stroke-width="0.7"/>
<line x1="297.00" y1="318.00" x2="297.00" y2="319.50" stroke="#231f20" stroke-width="0.7"/>
<line x1="301.40" y1="318.00" x2="301.40" y2="319.50" stroke="#231f20" stroke-width="0.7"/>
<line x1="305.80" y1="318.00" x2="305.80" y2="319.50" stroke="#231f20" stroke-width="0.7"/>
<line x1="310.20" y1="318.00" x2="310.20" y2="319.50" stroke="#231f20" stroke-width="0.7"/>
<line x1="314.60" y1="318.00" x2="314.60" y2="320.50" stroke="#231f20" stroke-width="0.7"/>
<text x="204.60" y="331.50" font-size="8.6" text-anchor="middle" textLength="4.20" lengthAdjust="spacingAndGlyphs">0</text>
<text x="226.60" y="331.50" font-size="8.6" text-anchor="middle" textLength="8.60" lengthAdjust="spacingAndGlyphs">50</text>
<text x="248.60" y="331.50" font-size="8.6" text-anchor="middle" textLength="13.00" lengthAdjust="spacingAndGlyphs">100</text>
<text x="270.60" y="331.50" font-size="8.6" text-anchor="middle" textLength="13.00" lengthAdjust="spacingAndGlyphs">150</text>
<text x="292.60" y="331.50" font-size="8.6" text-anchor="middle" textLength="13.00" lengthAdjust="spacingAndGlyphs">200</text>
<text x="314.60" y="331.50" font-size="8.6" text-anchor="middle" textLength="13.00" lengthAdjust="spacingAndGlyphs">250</text>
<text x="262.50" y="344.60" font-size="9.7" text-anchor="middle" textLength="56.00" lengthAdjust="spacingAndGlyphs">Channels (DAPI)</text>
<g transform="translate(174.7,265) rotate(-90)">
<text x="0.00" y="0.00" font-size="10.0" text-anchor="middle" textLength="29.40" lengthAdjust="spacingAndGlyphs">Number</text>
</g>
<text x="270.40" y="211.00" font-size="8.2" text-anchor="middle" textLength="45.30" lengthAdjust="spacingAndGlyphs">FT234 (8 μM)</text>
<text x="227.50" y="211.80" font-size="8.4" text-anchor="middle" textLength="9.60" lengthAdjust="spacingAndGlyphs">G1</text>
<text x="235.60" y="302.40" font-size="10.0" text-anchor="middle" textLength="5.20" lengthAdjust="spacingAndGlyphs">S</text>
<text x="248.10" y="286.60" font-size="8.6" text-anchor="middle" textLength="10.00" lengthAdjust="spacingAndGlyphs">G2</text>
<rect x="247.4" y="227.3" width="46.2" height="35.7" fill="#fff" stroke="#231f20" stroke-width="1.1"/>
<line x1="262.50" y1="227.30" x2="262.50" y2="263.00" stroke="#231f20" stroke-width="1.2"/>
<text x="249.80" y="237.70" font-size="8.8" textLength="9.00" lengthAdjust="spacingAndGlyphs">G1</text>
<text x="268.40" y="237.70" font-size="8.8" textLength="18.90" lengthAdjust="spacingAndGlyphs">86.65</text>
<text x="249.80" y="247.85" font-size="8.8" textLength="4.20" lengthAdjust="spacingAndGlyphs">S</text>
<text x="268.40" y="247.85" font-size="8.8" textLength="18.90" lengthAdjust="spacingAndGlyphs">12.43</text>
<text x="249.80" y="258.00" font-size="8.8" textLength="9.00" lengthAdjust="spacingAndGlyphs">G2</text>
<text x="272.60" y="258.00" font-size="8.8" textLength="14.60" lengthAdjust="spacingAndGlyphs">0.92</text>
<path d="M205.2,318.0 L205.2,309.4 L212,309.6 L218,309.8 L223.6,309.4 L224.2,318.0 Z" fill="#c7d1e6" stroke="none" stroke-width="1"/>
<path d="M205.0,309.5 L205.8,305.2 L206.8,308.4 L208.2,310.4 L210,308.4 L212,306.8 L214.4,305.0 L216,307.8 L217.5,305.8 L219.4,310.2 L221,308.6 L222.6,307.8 L224.2,304.2" fill="none" stroke="#231f20" stroke-width="0.6"/>
<path d="M230.6,318.0 L230.8,315.0 L240,314.9 L245,314.6 L250.5,315.8 L251,318.0 Z" fill="url(#xh)" stroke="none" stroke-width="1"/>
<path d="M230.8,314.2 L236,314.0 L241,313.8 L244.8,313.4 L246.4,312.6 L248,313.6 L250.5,315.8 L253,316.9 L257,317.4 L262,317.6" fill="none" stroke="#231f20" stroke-width="0.6"/>
<path d="M223.4,318.0 L224.4,300 L225.2,275 L225.9,245 L226.9,214.6 L227.9,245 L228.6,275 L229.6,300 L231.4,318.0 Z" fill="url(#g1b)" stroke="#2a0a12" stroke-width="0.3"/>
<path d="M223.4,318.0 L223.9,309 L224.5,303.6 L225.6,308 L226.8,318.0 Z" fill="#5e1428" stroke="none" stroke-width="1"/>
<path d="M225.3,321.5 L226.9,319 L228.5,321.5 Z" fill="#231f20" stroke="none" stroke-width="1"/>
<path d="M244.9,321.5 L246.5,319 L248.1,321.5 Z" fill="#231f20" stroke="none" stroke-width="1"/>
<text x="7.80" y="373.80" font-size="11.0" textLength="8.10" lengthAdjust="spacingAndGlyphs" font-weight="bold" fill="#000" stroke="#000" stroke-width="0.35">D</text>
<line x1="45.90" y1="379.20" x2="45.90" y2="507.80" stroke="#231f20" stroke-width="1.2"/>
<line x1="45.30" y1="507.20" x2="233.80" y2="507.20" stroke="#231f20" stroke-width="1.2"/>
<line x1="43.10" y1="507.20" x2="45.90" y2="507.20" stroke="#231f20" stroke-width="1"/>
<text x="39.70" y="510.20" font-size="8.8" text-anchor="end" textLength="4.40" lengthAdjust="spacingAndGlyphs">0</text>
<line x1="43.10" y1="482.08" x2="45.90" y2="482.08" stroke="#231f20" stroke-width="1"/>
<text x="39.70" y="485.08" font-size="8.8" text-anchor="end" textLength="8.80" lengthAdjust="spacingAndGlyphs">20</text>
<line x1="43.10" y1="456.96" x2="45.90" y2="456.96" stroke="#231f20" stroke-width="1"/>
<text x="39.70" y="459.96" font-size="8.8" text-anchor="end" textLength="8.80" lengthAdjust="spacingAndGlyphs">40</text>
<line x1="43.10" y1="431.84" x2="45.90" y2="431.84" stroke="#231f20" stroke-width="1"/>
<text x="39.70" y="434.84" font-size="8.8" text-anchor="end" textLength="8.80" lengthAdjust="spacingAndGlyphs">60</text>
<line x1="43.10" y1="406.72" x2="45.90" y2="406.72" stroke="#231f20" stroke-width="1"/>
<text x="39.70" y="409.72" font-size="8.8" text-anchor="end" textLength="8.80" lengthAdjust="spacingAndGlyphs">80</text>
<line x1="43.10" y1="381.60" x2="45.90" y2="381.60" stroke="#231f20" stroke-width="1"/>
<text x="39.70" y="384.60" font-size="8.8" text-anchor="end" textLength="13.60" lengthAdjust="spacingAndGlyphs">100</text>
<line x1="78.50" y1="507.20" x2="78.50" y2="510.20" stroke="#231f20" stroke-width="1"/>
<text x="78.50" y="520.80" font-size="8.4" text-anchor="middle" textLength="10.60" lengthAdjust="spacingAndGlyphs">G1</text>
<line x1="142.70" y1="507.20" x2="142.70" y2="510.20" stroke="#231f20" stroke-width="1"/>
<text x="142.70" y="520.80" font-size="8.4" text-anchor="middle" textLength="3.90" lengthAdjust="spacingAndGlyphs">S</text>
<line x1="207.00" y1="507.20" x2="207.00" y2="510.20" stroke="#231f20" stroke-width="1"/>
<text x="207.00" y="520.80" font-size="8.4" text-anchor="middle" textLength="10.60" lengthAdjust="spacingAndGlyphs">G2</text>
<text x="139.80" y="534.60" font-size="10.2" text-anchor="middle" textLength="31.90" lengthAdjust="spacingAndGlyphs">Cell cycle</text>
<g transform="translate(20.0,442.8) rotate(-90)">
<text x="0.00" y="0.00" font-size="10.0" text-anchor="middle" textLength="78.50" lengthAdjust="spacingAndGlyphs">Percentage of cells (%)</text>
</g>
<defs><pattern id="hb" patternUnits="userSpaceOnUse" width="5.05" height="5.05" patternTransform="rotate(52)"><rect width="5.05" height="5.05" fill="#2a4a80"/><rect x="0" y="0" width="1.1" height="5.05" fill="#fff"/></pattern><pattern id="hm" patternUnits="userSpaceOnUse" width="5.05" height="5.05" patternTransform="rotate(52)"><rect width="5.05" height="5.05" fill="#c4007c"/><rect x="0" y="0" width="1.1" height="5.05" fill="#fff"/></pattern></defs>
<rect x="55.00" y="460.80" width="11.90" height="46.40" fill="#a9b98a"/>
<line x1="60.95" y1="459.40" x2="60.95" y2="460.80" stroke="#231f20" stroke-width="1"/>
<line x1="58.35" y1="459.40" x2="63.55" y2="459.40" stroke="#231f20" stroke-width="1"/>
<defs><pattern id="hp1" patternUnits="userSpaceOnUse" width="5.05" height="5.05" patternTransform="translate(72.30,461.25) rotate(52)"><rect width="5.05" height="5.05" fill="#2a4a80"/><rect x="0" y="0" width="0.65" height="5.05" fill="#fff"/><rect x="4.40" y="0" width="0.65" height="5.05" fill="#fff"/></pattern></defs>
<rect x="72.30" y="456.20" width="12.20" height="51.00" fill="url(#hp1)"/>
<line x1="78.40" y1="452.00" x2="78.40" y2="456.20" stroke="#231f20" stroke-width="1"/>
<line x1="75.80" y1="452.00" x2="81.00" y2="452.00" stroke="#231f20" stroke-width="1"/>
<rect x="90.40" y="399.80" width="11.50" height="107.40" fill="#2a4a80"/>
<line x1="96.15" y1="398.60" x2="96.15" y2="399.80" stroke="#231f20" stroke-width="1"/>
<line x1="93.55" y1="398.60" x2="98.75" y2="398.60" stroke="#231f20" stroke-width="1"/>
<rect x="119.40" y="449.70" width="11.80" height="57.50" fill="#a9b98a"/>
<line x1="125.30" y1="448.30" x2="125.30" y2="449.70" stroke="#231f20" stroke-width="1"/>
<line x1="122.70" y1="448.30" x2="127.90" y2="448.30" stroke="#231f20" stroke-width="1"/>
<defs><pattern id="hp2" patternUnits="userSpaceOnUse" width="5.05" height="5.05" patternTransform="translate(136.90,452.35) rotate(52)"><rect width="5.05" height="5.05" fill="#2a4a80"/><rect x="0" y="0" width="0.65" height="5.05" fill="#fff"/><rect x="4.40" y="0" width="0.65" height="5.05" fill="#fff"/></pattern></defs>
<rect x="136.90" y="447.30" width="11.90" height="59.90" fill="url(#hp2)"/>
<line x1="142.85" y1="441.20" x2="142.85" y2="447.30" stroke="#231f20" stroke-width="1"/>
<line x1="140.25" y1="441.20" x2="145.45" y2="441.20" stroke="#231f20" stroke-width="1"/>
<rect x="154.20" y="491.70" width="12.00" height="15.50" fill="#2a4a80"/>
<line x1="160.20" y1="490.20" x2="160.20" y2="491.70" stroke="#231f20" stroke-width="1"/>
<line x1="157.60" y1="490.20" x2="162.80" y2="490.20" stroke="#231f20" stroke-width="1"/>
<rect x="184.20" y="486.50" width="11.40" height="20.70" fill="#a9b98a"/>
<line x1="189.90" y1="485.40" x2="189.90" y2="486.50" stroke="#231f20" stroke-width="1"/>
<line x1="187.30" y1="485.40" x2="192.50" y2="485.40" stroke="#231f20" stroke-width="1"/>
<defs><pattern id="hp3" patternUnits="userSpaceOnUse" width="5.05" height="5.05" patternTransform="translate(201.20,498.85) rotate(52)"><rect width="5.05" height="5.05" fill="#2a4a80"/><rect x="0" y="0" width="0.65" height="5.05" fill="#fff"/><rect x="4.40" y="0" width="0.65" height="5.05" fill="#fff"/></pattern></defs>
<rect x="201.20" y="493.80" width="11.60" height="13.40" fill="url(#hp3)"/>
<line x1="207.00" y1="493.20" x2="207.00" y2="493.80" stroke="#231f20" stroke-width="1"/>
<line x1="204.40" y1="493.20" x2="209.60" y2="493.20" stroke="#231f20" stroke-width="1"/>
<rect x="219.00" y="505.70" width="11.30" height="1.50" fill="#2a4a80"/>
<line x1="224.65" y1="504.30" x2="224.65" y2="505.70" stroke="#231f20" stroke-width="1"/>
<line x1="222.05" y1="504.30" x2="227.25" y2="504.30" stroke="#231f20" stroke-width="1"/>
<line x1="61.10" y1="382.40" x2="95.60" y2="382.40" stroke="#231f20" stroke-width="1.1"/>
<circle cx="72.90" cy="378.50" r="1.15" fill="#1a1a1a"/>
<circle cx="76.40" cy="378.50" r="1.15" fill="#1a1a1a"/>
<circle cx="79.90" cy="378.50" r="1.15" fill="#1a1a1a"/>
<circle cx="83.40" cy="378.50" r="1.15" fill="#1a1a1a"/>
<line x1="61.10" y1="392.40" x2="78.20" y2="392.40" stroke="#231f20" stroke-width="1.1"/>
<text x="69.40" y="390.70" font-size="8.2" text-anchor="middle" textLength="11.20" lengthAdjust="spacingAndGlyphs">n.s.</text>
<line x1="125.10" y1="430.40" x2="160.00" y2="430.40" stroke="#231f20" stroke-width="1.1"/>
<circle cx="137.30" cy="426.50" r="1.15" fill="#1a1a1a"/>
<circle cx="140.80" cy="426.50" r="1.15" fill="#1a1a1a"/>
<circle cx="144.30" cy="426.50" r="1.15" fill="#1a1a1a"/>
<circle cx="147.80" cy="426.50" r="1.15" fill="#1a1a1a"/>
<line x1="125.10" y1="440.60" x2="142.20" y2="440.60" stroke="#231f20" stroke-width="1.1"/>
<text x="133.70" y="438.70" font-size="8.2" text-anchor="middle" textLength="11.40" lengthAdjust="spacingAndGlyphs">n.s.</text>
<line x1="189.90" y1="466.40" x2="224.40" y2="466.40" stroke="#231f20" stroke-width="1.1"/>
<circle cx="201.90" cy="462.30" r="1.15" fill="#1a1a1a"/>
<circle cx="205.27" cy="462.30" r="1.15" fill="#1a1a1a"/>
<circle cx="208.63" cy="462.30" r="1.15" fill="#1a1a1a"/>
<circle cx="212.00" cy="462.30" r="1.15" fill="#1a1a1a"/>
<line x1="189.90" y1="476.40" x2="207.00" y2="476.40" stroke="#231f20" stroke-width="1.1"/>
<circle cx="193.10" cy="472.60" r="1.15" fill="#1a1a1a"/>
<circle cx="196.53" cy="472.60" r="1.15" fill="#1a1a1a"/>
<circle cx="199.97" cy="472.60" r="1.15" fill="#1a1a1a"/>
<circle cx="203.40" cy="472.60" r="1.15" fill="#1a1a1a"/>
<rect x="169.50" y="387.30" width="9.30" height="6.50" fill="#a9b98a"/>
<text x="181.80" y="393.30" font-size="8.6" textLength="23.80" lengthAdjust="spacingAndGlyphs">DMSO</text>
<defs><pattern id="hp4" patternUnits="userSpaceOnUse" width="5.05" height="5.05" patternTransform="translate(169.50,406.90) rotate(52)"><rect width="5.05" height="5.05" fill="#2a4a80"/><rect x="0" y="0" width="0.65" height="5.05" fill="#fff"/><rect x="4.40" y="0" width="0.65" height="5.05" fill="#fff"/></pattern></defs>
<rect x="169.50" y="402.70" width="9.30" height="6.50" fill="url(#hp4)"/>
<text x="181.80" y="408.50" font-size="8.6" textLength="41.20" lengthAdjust="spacingAndGlyphs">FT234 4 μM</text>
<rect x="169.50" y="418.40" width="9.30" height="6.60" fill="#2a4a80"/>
<text x="181.80" y="424.10" font-size="8.6" textLength="41.20" lengthAdjust="spacingAndGlyphs">FT234 8 μM</text>
<text x="250.30" y="373.30" font-size="11.0" textLength="6.60" lengthAdjust="spacingAndGlyphs" font-weight="bold" fill="#000" stroke="#000" stroke-width="0.35">E</text>
<line x1="283.40" y1="378.30" x2="283.40" y2="507.40" stroke="#231f20" stroke-width="1.2"/>
<line x1="282.80" y1="506.80" x2="471.50" y2="506.80" stroke="#231f20" stroke-width="1.2"/>
<line x1="280.60" y1="506.80" x2="283.40" y2="506.80" stroke="#231f20" stroke-width="1"/>
<text x="277.30" y="509.80" font-size="8.8" text-anchor="end" textLength="4.40" lengthAdjust="spacingAndGlyphs">0</text>
<line x1="280.60" y1="481.64" x2="283.40" y2="481.64" stroke="#231f20" stroke-width="1"/>
<text x="277.30" y="484.64" font-size="8.8" text-anchor="end" textLength="8.80" lengthAdjust="spacingAndGlyphs">20</text>
<line x1="280.60" y1="456.48" x2="283.40" y2="456.48" stroke="#231f20" stroke-width="1"/>
<text x="277.30" y="459.48" font-size="8.8" text-anchor="end" textLength="8.80" lengthAdjust="spacingAndGlyphs">40</text>
<line x1="280.60" y1="431.32" x2="283.40" y2="431.32" stroke="#231f20" stroke-width="1"/>
<text x="277.30" y="434.32" font-size="8.8" text-anchor="end" textLength="8.80" lengthAdjust="spacingAndGlyphs">60</text>
<line x1="280.60" y1="406.16" x2="283.40" y2="406.16" stroke="#231f20" stroke-width="1"/>
<text x="277.30" y="409.16" font-size="8.8" text-anchor="end" textLength="8.80" lengthAdjust="spacingAndGlyphs">80</text>
<line x1="280.60" y1="381.00" x2="283.40" y2="381.00" stroke="#231f20" stroke-width="1"/>
<text x="277.30" y="384.00" font-size="8.8" text-anchor="end" textLength="12.70" lengthAdjust="spacingAndGlyphs">100</text>
<line x1="316.10" y1="506.80" x2="316.10" y2="509.80" stroke="#231f20" stroke-width="1"/>
<text x="316.10" y="520.80" font-size="8.4" text-anchor="middle" textLength="10.60" lengthAdjust="spacingAndGlyphs">G1</text>
<line x1="380.30" y1="506.80" x2="380.30" y2="509.80" stroke="#231f20" stroke-width="1"/>
<text x="380.30" y="520.80" font-size="8.4" text-anchor="middle" textLength="3.90" lengthAdjust="spacingAndGlyphs">S</text>
<line x1="444.70" y1="506.80" x2="444.70" y2="509.80" stroke="#231f20" stroke-width="1"/>
<text x="444.70" y="520.80" font-size="8.4" text-anchor="middle" textLength="10.60" lengthAdjust="spacingAndGlyphs">G2</text>
<text x="377.80" y="534.60" font-size="10.2" text-anchor="middle" textLength="32.20" lengthAdjust="spacingAndGlyphs">Cell cycle</text>
<g transform="translate(258.2,442.3) rotate(-90)">
<text x="0.00" y="0.00" font-size="10.0" text-anchor="middle" textLength="78.50" lengthAdjust="spacingAndGlyphs">Percentage of cells (%)</text>
</g>
<rect x="292.90" y="458.20" width="11.80" height="48.60" fill="#a9b98a"/>
<line x1="298.80" y1="453.20" x2="298.80" y2="458.20" stroke="#231f20" stroke-width="1"/>
<line x1="296.20" y1="453.20" x2="301.40" y2="453.20" stroke="#231f20" stroke-width="1"/>
<defs><pattern id="hp5" patternUnits="userSpaceOnUse" width="5.37" height="5.37" patternTransform="translate(310.20,460.60) rotate(52)"><rect width="5.37" height="5.37" fill="#c4007c"/><rect x="0" y="0" width="0.65" height="5.37" fill="#fff"/><rect x="4.72" y="0" width="0.65" height="5.37" fill="#fff"/></pattern></defs>
<rect x="310.20" y="459.00" width="11.80" height="47.80" fill="url(#hp5)"/>
<line x1="316.10" y1="456.20" x2="316.10" y2="459.00" stroke="#231f20" stroke-width="1"/>
<line x1="313.50" y1="456.20" x2="318.70" y2="456.20" stroke="#231f20" stroke-width="1"/>
<rect x="327.60" y="414.00" width="11.70" height="92.80" fill="#c4007c"/>
<line x1="333.45" y1="405.40" x2="333.45" y2="414.00" stroke="#231f20" stroke-width="1"/>
<line x1="330.85" y1="405.40" x2="336.05" y2="405.40" stroke="#231f20" stroke-width="1"/>
<rect x="357.20" y="461.40" width="11.80" height="45.40" fill="#a9b98a"/>
<line x1="363.10" y1="459.00" x2="363.10" y2="461.40" stroke="#231f20" stroke-width="1"/>
<line x1="360.50" y1="459.00" x2="365.70" y2="459.00" stroke="#231f20" stroke-width="1"/>
<defs><pattern id="hp6" patternUnits="userSpaceOnUse" width="5.37" height="5.37" patternTransform="translate(374.60,437.40) rotate(52)"><rect width="5.37" height="5.37" fill="#c4007c"/><rect x="0" y="0" width="0.65" height="5.37" fill="#fff"/><rect x="4.72" y="0" width="0.65" height="5.37" fill="#fff"/></pattern></defs>
<rect x="374.60" y="436.00" width="12.10" height="70.80" fill="url(#hp6)"/>
<line x1="380.65" y1="433.60" x2="380.65" y2="436.00" stroke="#231f20" stroke-width="1"/>
<line x1="378.05" y1="433.60" x2="383.25" y2="433.60" stroke="#231f20" stroke-width="1"/>
<rect x="392.20" y="476.20" width="11.80" height="30.60" fill="#c4007c"/>
<line x1="398.10" y1="466.20" x2="398.10" y2="476.20" stroke="#231f20" stroke-width="1"/>
<line x1="395.50" y1="466.20" x2="400.70" y2="466.20" stroke="#231f20" stroke-width="1"/>
<rect x="421.60" y="476.40" width="11.50" height="30.40" fill="#a9b98a"/>
<line x1="427.35" y1="473.40" x2="427.35" y2="476.40" stroke="#231f20" stroke-width="1"/>
<line x1="424.75" y1="473.40" x2="429.95" y2="473.40" stroke="#231f20" stroke-width="1"/>
<defs><pattern id="hp7" patternUnits="userSpaceOnUse" width="5.37" height="5.37" patternTransform="translate(439.30,503.80) rotate(52)"><rect width="5.37" height="5.37" fill="#c4007c"/><rect x="0" y="0" width="0.65" height="5.37" fill="#fff"/><rect x="4.72" y="0" width="0.65" height="5.37" fill="#fff"/></pattern></defs>
<rect x="439.30" y="500.80" width="11.50" height="6.00" fill="url(#hp7)"/>
<line x1="445.05" y1="498.70" x2="445.05" y2="500.80" stroke="#231f20" stroke-width="1"/>
<line x1="442.45" y1="498.70" x2="447.65" y2="498.70" stroke="#231f20" stroke-width="1"/>
<rect x="456.60" y="505.80" width="11.30" height="1.00" fill="#c4007c"/>
<line x1="462.25" y1="503.60" x2="462.25" y2="505.80" stroke="#231f20" stroke-width="1"/>
<line x1="459.65" y1="503.60" x2="464.85" y2="503.60" stroke="#231f20" stroke-width="1"/>
<line x1="298.70" y1="392.70" x2="333.70" y2="392.70" stroke="#231f20" stroke-width="1.2"/>
<circle cx="312.60" cy="388.90" r="1.15" fill="#1a1a1a"/>
<circle cx="316.10" cy="388.90" r="1.15" fill="#1a1a1a"/>
<circle cx="319.60" cy="388.90" r="1.15" fill="#1a1a1a"/>
<line x1="298.70" y1="403.00" x2="315.80" y2="403.00" stroke="#231f20" stroke-width="1.2"/>
<text x="307.40" y="401.00" font-size="8.2" text-anchor="middle" textLength="11.40" lengthAdjust="spacingAndGlyphs">n.s.</text>
<line x1="363.10" y1="413.50" x2="398.00" y2="413.50" stroke="#231f20" stroke-width="1.2"/>
<circle cx="374.90" cy="409.70" r="1.15" fill="#1a1a1a"/>
<circle cx="378.53" cy="409.70" r="1.15" fill="#1a1a1a"/>
<circle cx="382.17" cy="409.70" r="1.15" fill="#1a1a1a"/>
<circle cx="385.80" cy="409.70" r="1.15" fill="#1a1a1a"/>
<line x1="363.10" y1="423.40" x2="380.60" y2="423.40" stroke="#231f20" stroke-width="1.2"/>
<circle cx="366.50" cy="419.60" r="1.15" fill="#1a1a1a"/>
<circle cx="370.00" cy="419.60" r="1.15" fill="#1a1a1a"/>
<circle cx="373.50" cy="419.60" r="1.15" fill="#1a1a1a"/>
<circle cx="377.00" cy="419.60" r="1.15" fill="#1a1a1a"/>
<line x1="427.40" y1="458.30" x2="462.10" y2="458.30" stroke="#231f20" stroke-width="1.2"/>
<circle cx="439.60" cy="454.30" r="1.15" fill="#1a1a1a"/>
<circle cx="443.07" cy="454.30" r="1.15" fill="#1a1a1a"/>
<circle cx="446.53" cy="454.30" r="1.15" fill="#1a1a1a"/>
<circle cx="450.00" cy="454.30" r="1.15" fill="#1a1a1a"/>
<line x1="427.40" y1="468.40" x2="444.80" y2="468.40" stroke="#231f20" stroke-width="1.2"/>
<circle cx="431.10" cy="464.60" r="1.15" fill="#1a1a1a"/>
<circle cx="434.47" cy="464.60" r="1.15" fill="#1a1a1a"/>
<circle cx="437.83" cy="464.60" r="1.15" fill="#1a1a1a"/>
<circle cx="441.20" cy="464.60" r="1.15" fill="#1a1a1a"/>
<rect x="407.20" y="387.40" width="9.40" height="6.40" fill="#a9b98a"/>
<text x="419.70" y="393.10" font-size="8.6" textLength="23.30" lengthAdjust="spacingAndGlyphs">DMSO</text>
<defs><pattern id="hp8" patternUnits="userSpaceOnUse" width="5.05" height="5.05" patternTransform="translate(407.20,406.60) rotate(52)"><rect width="5.05" height="5.05" fill="#c4007c"/><rect x="0" y="0" width="0.65" height="5.05" fill="#fff"/><rect x="4.40" y="0" width="0.65" height="5.05" fill="#fff"/></pattern></defs>
<rect x="407.20" y="402.40" width="9.40" height="6.60" fill="url(#hp8)"/>
<text x="419.70" y="408.40" font-size="8.6" textLength="41.50" lengthAdjust="spacingAndGlyphs">FT895 5 μM</text>
<rect x="407.20" y="418.00" width="9.40" height="6.60" fill="#c4007c"/>
<text x="419.70" y="423.90" font-size="8.6" textLength="46.10" lengthAdjust="spacingAndGlyphs">FT895 10 μM</text>
<rect x="0.5" y="0.5" width="519" height="543" fill="none" stroke="#000" stroke-width="1"/>
</svg>
</body></html>
